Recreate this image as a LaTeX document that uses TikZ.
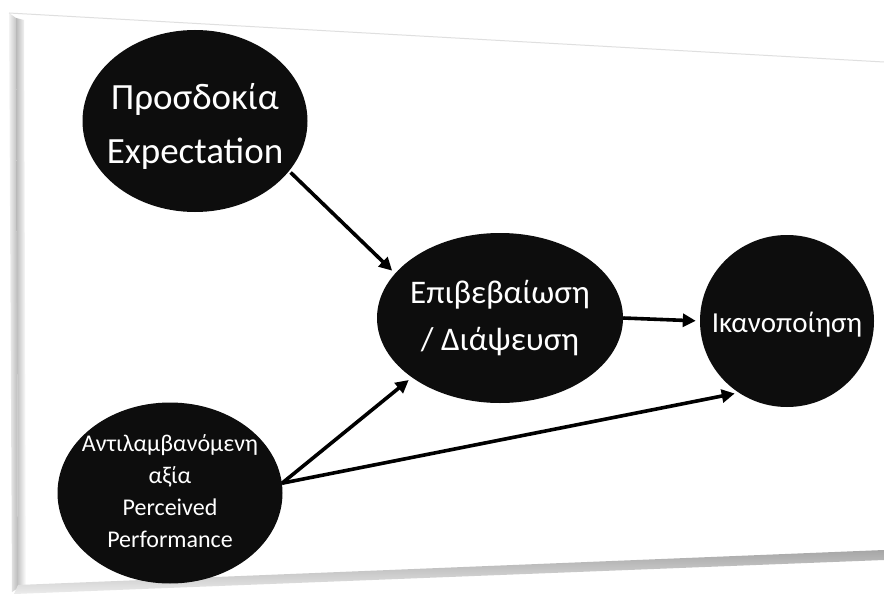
\documentclass[tikz,border=0pt]{standalone}
\usepackage{fontspec}
\setmainfont{Carlito}
\usetikzlibrary{shapes.geometric,arrows.meta}
\definecolor{blob}{HTML}{0D0D0D}
\tikzset{
  blobnode/.style={ellipse, fill=blob, draw=none, inner sep=0pt},
  blobtext/.style={text=white, align=center},
  arr/.style={line width=3.6pt, -{Triangle[length=13pt,width=13pt]}, black, shorten <=2pt, shorten >=4pt}
}
\begin{document}
\begin{tikzpicture}[x=1pt,y=-1pt]
\useasboundingbox (0,0) rectangle (884,594);
\fill[white] (0,0) rectangle (884,594);
% card
\fill[white] (10,13) -- (884,62) -- (884,552) -- (14,591) -- cycle;
% left bevel
\shade[left color=gray!10, right color=gray!55] (9,13) -- (16,18) -- (18,588) -- (12,592) -- cycle;
\shade[left color=gray!55, right color=white] (16,18) -- (24,20) -- (26,587) -- (18,588) -- cycle;
% bottom shadow
\shade[top color=gray!70, bottom color=gray!15] (18,585) -- (884,550) -- (884,560) -- (14,594) -- cycle;
% top edge
\draw[gray!25, line width=1pt] (9,13) -- (884,62);
% nodes
\node[blobnode, minimum width=225pt, minimum height=182pt,
  label={[blobtext, font=\fontsize{37}{54}\selectfont, yshift=-5pt]center:Προσδοκία\\Expectation}] (exp) at (195,121) {};
\node[blobnode, minimum width=246pt, minimum height=170pt,
  label={[blobtext, font=\fontsize{33}{47}\selectfont]center:Επιβεβαίωση\\/ Διάψευση}] (conf) at (500,318) {};
\node[blobnode, minimum width=174pt, minimum height=172pt,
  label={[blobtext, font=\fontsize{29}{36}\selectfont, yshift=-4pt]center:Ικανοποίηση}] (ikan) at (787,321) {};
\node[blobnode, minimum width=225pt, minimum height=181pt,
  label={[blobtext, font=\fontsize{24}{32}\selectfont, yshift=2pt]center:Αντιλαμβανόμενη\\αξία\\Perceived\\Performance}] (perc) at (170,493) {};
% connectors
\draw[arr] (exp.-28) -- (conf.157);
\draw[arr, shorten <=0pt] (conf.east) -- (ikan.west);
\draw[arr, shorten <=0pt] (perc.5) -- (conf.214);
\draw[arr, shorten <=0pt] (perc.5) -- (ikan.236);
\end{tikzpicture}
\end{document}
